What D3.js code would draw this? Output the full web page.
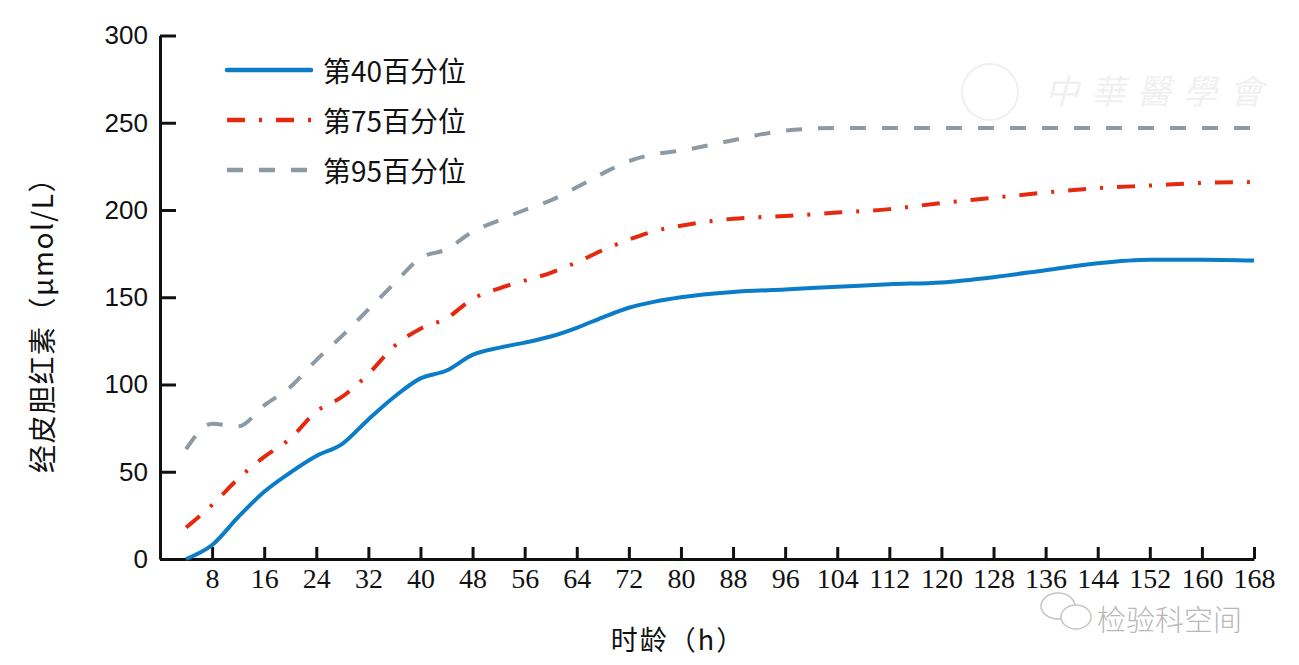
<!DOCTYPE html>
<html><head><meta charset="utf-8">
<script src="https://cdn.jsdelivr.net/npm/d3@7"></script>
<style>
html,body{margin:0;padding:0;background:#fff;}
svg{display:block;}
.xt text{font-family:"Liberation Serif","DejaVu Serif",serif;font-size:28px;fill:#111;}
.yt text{font-family:"Liberation Sans",Arial,sans-serif;font-size:26px;fill:#111;}
</style></head>
<body>
<svg id="chart" width="1299" height="665"></svg>
<script>
// ---- data ----
const hours = [4,8,12,16,20,24,28,32,36,40,44,48,52,56,60,64,68,72,76,80,88,96,104,112,120,128,136,144,152,160,168];
const p40 = [0,8,24,38.5,49.5,59,66,80,93,103.5,108,117,121,124,127.5,132.5,138.5,144,147.5,150,153,154.5,156,157.5,158.5,161.5,165.5,169.5,171.5,171.5,171];
const p75 = [18,31,46,58.5,69,84.5,93,106,122,132,138,149,155,159.5,164,170,177,183,188,191,195,196.5,198.5,200.5,204,207,210,212.5,214,215.5,216];
const p95 = [63,77.5,76,88,98.5,114,128,143,158,172.5,177.5,187.5,194,200,205.5,213,221,228,232,234,240,245.5,247,247,247,247,247,247,247,247,247];
const seriesNames = ["第40百分位","第75百分位","第95百分位"];
const xTicks = [8,16,24,32,40,48,56,64,72,80,88,96,104,112,120,128,136,144,152,160,168];
const yTicks = [0,50,100,150,200,250,300];
const xTitle = "时龄（h）";
const yTitle = "经皮胆红素（μmol/L）";

// ---- styles ----
const styles = [
  {color:"#0b7cc7", dash:null},
  {color:"#e4290f", dash:"18,14,3,14"},
  {color:"#8d9aa4", dash:"16,16"}
];

const svg = d3.select("#chart");
const x = d3.scaleLinear().domain([0,168]).range([160,1254]);
const y = d3.scaleLinear().domain([0,300]).range([559,35.5]);

// watermarks
svg.append("text").attr("x",1045).attr("y",104)
  .attr("font-family","'Noto Sans CJK TC'").attr("font-size",34).attr("font-style","italic")
  .attr("fill","#f0f0f0").attr("letter-spacing",12).text("中華醫學會");
svg.append("circle").attr("cx",990).attr("cy",92).attr("r",28)
  .attr("fill","none").attr("stroke","#f0f0f0").attr("stroke-width",2);
const wm = svg.append("g").attr("fill","none").attr("stroke","#c4c4c4").attr("stroke-width",1.5);
wm.append("ellipse").attr("cx",1058).attr("cy",606).attr("rx",17).attr("ry",13);
wm.append("ellipse").attr("cx",1076).attr("cy",617).attr("rx",15).attr("ry",12).attr("fill","#fff");
svg.append("text").attr("x",1097).attr("y",631)
  .attr("font-family","'Noto Sans CJK SC'").attr("font-size",29).attr("font-weight",300)
  .attr("fill","#b8b8b8").text("检验科空间");

// axes
const xAxis = d3.axisBottom(x).tickValues(xTicks).tickSizeInner(-12).tickSizeOuter(0).tickPadding(9);
const yAxis = d3.axisLeft(y).tickValues(yTicks).tickSizeInner(-16).tickSizeOuter(0).tickPadding(12);

const gx = svg.append("g").attr("class","xt").attr("transform",`translate(0,${y(0)})`).call(xAxis)
  .attr("font-family",null).attr("font-size",null);
gx.selectAll("path,line").attr("stroke","#111").attr("stroke-width",3);

const gy = svg.append("g").attr("class","yt").attr("transform",`translate(${x(0)},0)`).call(yAxis)
  .attr("font-family",null).attr("font-size",null);
gy.selectAll("path,line").attr("stroke","#111").attr("stroke-width",3);

// axis titles
svg.append("text").attr("x",678).attr("y",650).attr("text-anchor","middle")
  .attr("font-family","'Noto Sans CJK SC'").attr("font-size",27).attr("letter-spacing",2)
  .attr("fill","#111").text(xTitle);
svg.append("text").attr("transform","translate(53,318) rotate(-90)").attr("text-anchor","middle")
  .attr("font-family","'Noto Sans CJK SC'").attr("font-size",28).attr("letter-spacing",1.5)
  .attr("fill","#111").text(yTitle);

// lines
const data = [p40,p75,p95];
const line = d3.line().x((d,i)=>x(hours[i])).y(d=>y(d)).curve(d3.curveMonotoneX);
data.forEach((vals,k)=>{
  svg.append("path").datum(vals).attr("d",line)
    .attr("fill","none").attr("stroke",styles[k].color).attr("stroke-width",4)
    .attr("stroke-dasharray",styles[k].dash).attr("stroke-linecap","butt");
});

// legend
const lg = svg.append("g");
seriesNames.forEach((name,k)=>{
  const ly = 70 + k*50;
  lg.append("line").attr("x1",227).attr("x2",311).attr("y1",ly).attr("y2",ly)
    .attr("stroke",styles[k].color).attr("stroke-width",4.5)
    .attr("stroke-dasharray",styles[k].dash).attr("stroke-linecap", k===0?"round":"butt");
  lg.append("text").attr("x",323).attr("y",ly).attr("dominant-baseline","central")
    .attr("font-family","'Noto Sans CJK SC'").attr("font-size",28).attr("fill","#111").text(name);
});
</script>
</body></html>
